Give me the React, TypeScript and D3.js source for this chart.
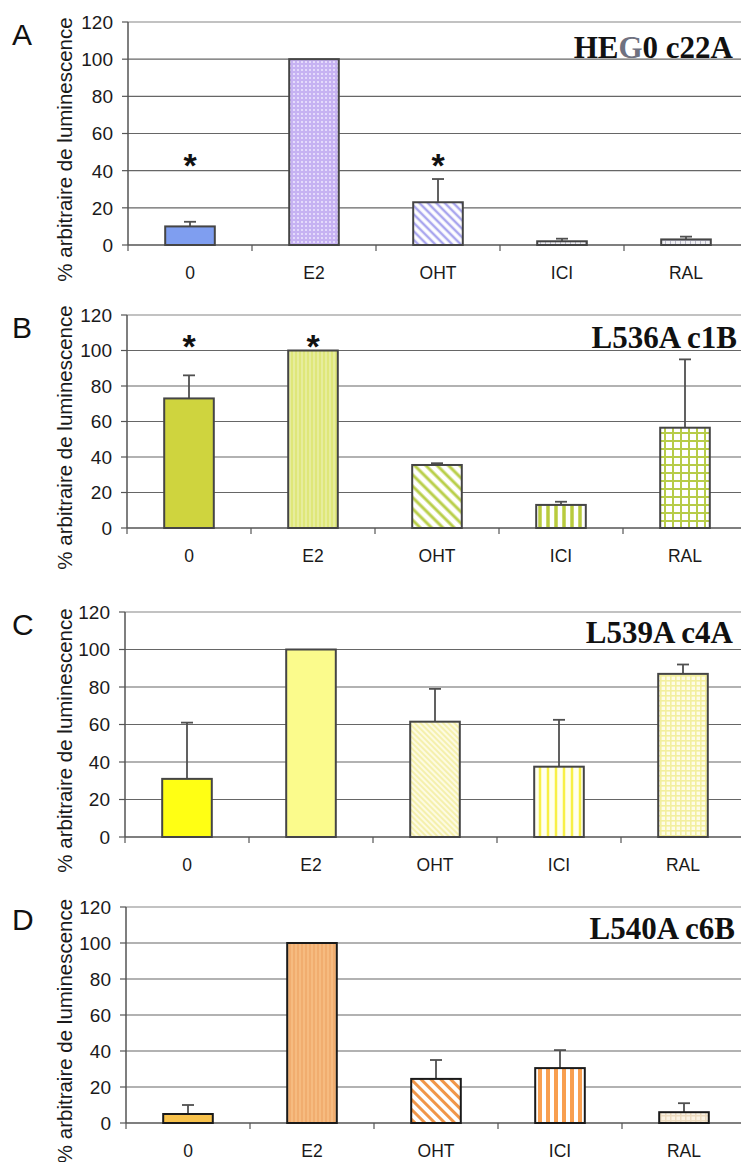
import React from 'react';
import * as d3 from 'd3';

const categories = ['0', 'E2', 'OHT', 'ICI', 'RAL'];
const yTicks = [0, 20, 40, 60, 80, 100, 120];
const panelLetters = ['A', 'B', 'C', 'D'];
const titles = ['HEG0 c22A', 'L536A c1B', 'L539A c4A', 'L540A c6B'];

const valuesA = [10, 100, 23, 2, 3];
const errA = [2.5, 0, 12.5, 1.4, 1.5];
const valuesB = [73, 100, 35.5, 13, 56.5];
const errB = [13, 0, 1, 1.8, 38.5];
const valuesC = [31, 100, 61.5, 37.5, 87];
const errC = [30, 0, 17.5, 25, 5];
const valuesD = [5, 100, 24.5, 30.5, 6];
const errD = [5, 0, 10.5, 10, 5];

const starsA = ['0', 'OHT'];
const starsB = ['0', 'E2'];
const starsC: string[] = [];
const starsD: string[] = [];
const starLevel = [46, 105.5, 0, 0];

type Fill =
  | { kind: 'solid'; bg: string }
  | { kind: 'dots'; bg: string; fg: string; s: number }
  | { kind: 'vert'; bg: string; fg: string; s: number; w: number }
  | { kind: 'diag'; bg: string; fg: string; s: number; w: number }
  | { kind: 'grid'; bg: string; fg: string; s: number; w: number };

const fillsA: Fill[] = [
  { kind: 'solid', bg: '#7f9ef0' },
  { kind: 'dots', bg: '#c6b2f2', fg: '#eee8ff', s: 4 },
  { kind: 'diag', bg: '#ffffff', fg: '#a9a6ee', s: 6, w: 2.5 },
  { kind: 'grid', bg: '#f0f0f4', fg: '#b8b8c8', s: 5, w: 1 },
  { kind: 'grid', bg: '#f0f0f4', fg: '#b8b8c8', s: 5, w: 1 },
];
const fillsB: Fill[] = [
  { kind: 'solid', bg: '#cfd43e' },
  { kind: 'vert', bg: '#dfe77a', fg: '#eaf0a8', s: 4, w: 1.5 },
  { kind: 'diag', bg: '#ffffff', fg: '#b9cf4a', s: 8, w: 3 },
  { kind: 'vert', bg: '#ffffff', fg: '#b9cb3e', s: 8, w: 3.5 },
  { kind: 'grid', bg: '#ffffff', fg: '#b7cc48', s: 8, w: 2 },
];
const fillsC: Fill[] = [
  { kind: 'solid', bg: '#ffff14' },
  { kind: 'solid', bg: '#fbfb8c' },
  { kind: 'diag', bg: '#fdfbe2', fg: '#f4eea0', s: 4, w: 1.6 },
  { kind: 'vert', bg: '#fffff0', fg: '#f8f046', s: 8, w: 2.5 },
  { kind: 'grid', bg: '#fefce6', fg: '#f3ef9e', s: 5, w: 1.6 },
];
const fillsD: Fill[] = [
  { kind: 'solid', bg: '#f8c24c' },
  { kind: 'vert', bg: '#f6bb80', fg: '#f0a86a', s: 4, w: 1.5 },
  { kind: 'diag', bg: '#ffffff', fg: '#f09648', s: 7, w: 3 },
  { kind: 'vert', bg: '#ffffff', fg: '#f89f50', s: 8, w: 4 },
  { kind: 'grid', bg: '#fbf3e4', fg: '#eedcc0', s: 5, w: 1.5 },
];

const panelValues = [valuesA, valuesB, valuesC, valuesD];
const panelErrors = [errA, errB, errC, errD];
const panelStars = [starsA, starsB, starsC, starsD];
const panelFills = [fillsA, fillsB, fillsC, fillsD];

// layout (pixels)
const layouts = [
  { x0: 128, yTop: 22, yBot: 245, titleX: 733, titleDy: 36, outline: '#454545' },
  { x0: 127, yTop: 315, yBot: 528, titleX: 737, titleDy: 33, outline: '#454545' },
  { x0: 125, yTop: 612, yBot: 837, titleX: 733, titleDy: 31, outline: '#454545' },
  { x0: 126, yTop: 907, yBot: 1123, titleX: 735, titleDy: 32, outline: '#1a1a1a' },
];
const GROUP = 124;
const W = 741;
const H = 1162;
const SANS = '"Liberation Sans", Arial, sans-serif';
const SERIF = '"Liberation Serif", "Times New Roman", serif';

function PatternDef({ id, f }: { id: string; f: Fill }) {
  if (f.kind === 'solid') return null;
  if (f.kind === 'dots') {
    return (
      <pattern id={id} width={f.s} height={f.s} patternUnits="userSpaceOnUse">
        <rect width={f.s} height={f.s} fill={f.bg} />
        <circle cx={f.s / 2} cy={f.s / 2} r={1} fill={f.fg} />
      </pattern>
    );
  }
  if (f.kind === 'vert') {
    return (
      <pattern id={id} width={f.s} height={f.s} patternUnits="userSpaceOnUse">
        <rect width={f.s} height={f.s} fill={f.bg} />
        <rect x={(f.s - f.w) / 2} width={f.w} height={f.s} fill={f.fg} />
      </pattern>
    );
  }
  if (f.kind === 'diag') {
    return (
      <pattern id={id} width={f.s} height={f.s} patternUnits="userSpaceOnUse" patternTransform="rotate(-45)">
        <rect width={f.s} height={f.s} fill={f.bg} />
        <rect x={(f.s - f.w) / 2} width={f.w} height={f.s} fill={f.fg} />
      </pattern>
    );
  }
  return (
    <pattern id={id} width={f.s} height={f.s} patternUnits="userSpaceOnUse">
      <rect width={f.s} height={f.s} fill={f.bg} />
      <rect x={0} width={f.w} height={f.s} fill={f.fg} />
      <rect y={0} width={f.s} height={f.w} fill={f.fg} />
    </pattern>
  );
}

function Panel({ idx }: { idx: number }) {
  const L = layouts[idx];
  const values = panelValues[idx];
  const errs = panelErrors[idx];
  const fills = panelFills[idx];
  const stars = panelStars[idx];
  const x = d3
    .scaleBand<string>()
    .domain(categories)
    .range([L.x0, L.x0 + GROUP * categories.length])
    .paddingInner(0.6)
    .paddingOuter(0.3);
  const y = d3.scaleLinear().domain([0, 120]).range([L.yBot, L.yTop]);
  const bw = x.bandwidth();
  const step = x.step();
  const boundaries = d3.range(categories.length + 1).map((i) => L.x0 + i * step);
  const axisMid = (L.yTop + L.yBot) / 2 + 16;
  const starSize = 34;

  return (
    <g>
      <defs>
        {fills.map((f, i) => (
          <PatternDef key={i} id={`p${idx}_${i}`} f={f} />
        ))}
      </defs>
      {/* gridlines */}
      {yTicks.filter((t) => t > 0).map((t) => (
        <line key={t} x1={L.x0} x2={W} y1={y(t)} y2={y(t)} stroke={t === 120 ? '#858585' : '#666'} strokeWidth={1.2} />
      ))}
      {/* y axis */}
      <line x1={L.x0} x2={L.x0} y1={L.yTop} y2={L.yBot} stroke="#555" strokeWidth={1.5} />
      {yTicks.map((t) => (
        <g key={t}>
          <line x1={L.x0 - 6} x2={L.x0} y1={y(t)} y2={y(t)} stroke="#555" strokeWidth={1.2} />
          <text x={L.x0 - 15} y={y(t)} dy="0.36em" textAnchor="end" fontFamily={SANS} fontSize={19} fill="#1a1a1a">
            {t}
          </text>
        </g>
      ))}
      {/* x axis */}
      <line x1={L.x0} x2={W} y1={L.yBot} y2={L.yBot} stroke="#555" strokeWidth={1.5} />
      {boundaries.map((b, i) => (
        <line key={i} x1={b} x2={b} y1={L.yBot} y2={L.yBot + 6} stroke="#555" strokeWidth={1.2} />
      ))}
      {categories.map((c) => (
        <text key={c} x={(x(c) as number) + bw / 2} y={L.yBot + 34} textAnchor="middle" fontFamily={SANS} fontSize={17.5} fill="#1a1a1a">
          {c}
        </text>
      ))}
      {/* bars */}
      {categories.map((c, i) => {
        const f = fills[i];
        const fill = f.kind === 'solid' ? f.bg : `url(#p${idx}_${i})`;
        const bx = x(c) as number;
        const cx = bx + bw / 2;
        const top = y(values[i]);
        return (
          <g key={c}>
            {errs[i] > 0 && (
              <g stroke="#505050" strokeWidth={1.8}>
                <line x1={cx} x2={cx} y1={top} y2={y(values[i] + errs[i])} />
                <line x1={cx - 6} x2={cx + 6} y1={y(values[i] + errs[i])} y2={y(values[i] + errs[i])} />
              </g>
            )}
            <rect x={bx} y={top} width={bw} height={L.yBot - top} fill={fill} stroke={L.outline} strokeWidth={2} />
          </g>
        );
      })}
      {/* significance stars */}
      {stars.map((c) => (
        <text key={c} x={(x(c) as number) + bw / 2} y={y(starLevel[idx]) + starSize * 0.5} textAnchor="middle" fontFamily={SANS} fontWeight="bold" fontSize={starSize} fill="#111">
          *
        </text>
      ))}
      {/* title */}
      <text x={L.titleX} y={L.yTop + L.titleDy} textAnchor="end" fontFamily={SERIF} fontWeight="bold" fontSize={31} fill="#111">
        {idx === 0 ? (
          <>
            HE<tspan fill="#6f7180">G</tspan>0 c22A
          </>
        ) : (
          titles[idx]
        )}
      </text>
      {/* panel letter */}
      <text x={12} y={L.yTop + 23} fontFamily={SANS} fontSize={30} fill="#111">
        {panelLetters[idx]}
      </text>
      {/* y-axis title */}
      <text
        transform={`translate(72, ${axisMid}) rotate(-90)`}
        textAnchor="middle"
        fontFamily={SANS}
        fontSize={20.5}
        fill="#1a1a1a"
      >
        % arbitraire de luminescence
      </text>
    </g>
  );
}

export default function App() {
  return (
    <svg
      width={W}
      height={H}
      viewBox={`0 0 ${W} ${H}`}
      style={{ position: 'absolute', left: 0, top: 0, background: '#fff' }}
    >
      <rect width={W} height={H} fill="#fff" />
      {layouts.map((_, i) => (
        <Panel key={i} idx={i} />
      ))}
    </svg>
  );
}
